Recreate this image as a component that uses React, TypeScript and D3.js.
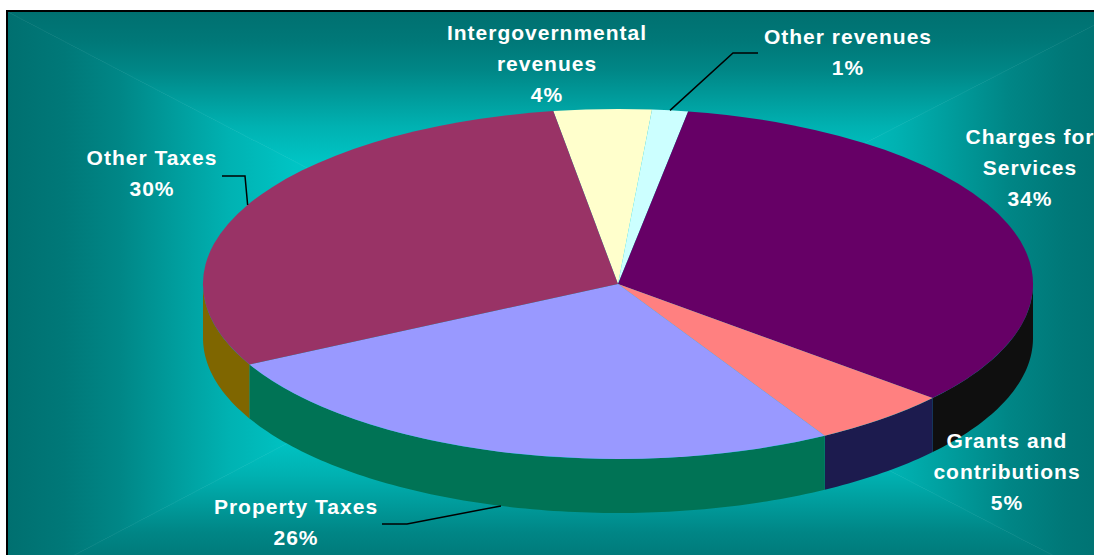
import React from "react";
import * as d3 from "d3";

// ---- data ----
const categories = [
  "Intergovernmental revenues",
  "Other revenues",
  "Charges for Services",
  "Grants and contributions",
  "Property Taxes",
  "Other Taxes",
];
const values = [3.8, 1.4, 33.6, 5.4, 25.7, 30.1];
const labelLines = [
  ["Intergovernmental", "revenues"],
  ["Other revenues"],
  ["Charges for", "Services"],
  ["Grants and", "contributions"],
  ["Property Taxes"],
  ["Other Taxes"],
];
const topColors = ["#FFFFCC", "#CCFFFF", "#660066", "#FF8080", "#9999FF", "#993366"];
const sideColors = ["#CCCC99", "#99CCCC", "#0F0F0F", "#1C1B4E", "#007355", "#7F6600"];

// ---- layout ----
const W = 1094;
const H = 555;
const CX = 618;
const CY = 284;
const RX = 415;
const RY = 175;
const DEPTH = 54;
const START = (-9 * Math.PI) / 180;
const LINE_H = 31;
const LABEL_POS = [
  { x: 547, y: 40 },
  { x: 848, y: 44 },
  { x: 1030, y: 144 },
  { x: 1007, y: 448 },
  { x: 296, y: 514 },
  { x: 152, y: 165 },
];
const LEADERS: Record<number, [number, number][]> = {
  1: [[758, 53], [733, 53]],
  4: [[382, 524], [407, 524]],
  5: [[222, 176], [245, 176]],
};

// background frame & gradient
const FX0 = 8, FY0 = 12, FX1 = 1120, FY1 = 590;
const GX = 560, GY = 300;

const px = (a: number) => CX + RX * Math.sin(a);
const py = (a: number) => CY - RY * Math.cos(a);

export default function App() {
  const data = categories.map((c, i) => ({ c, v: values[i], i }));
  const pie = d3
    .pie<any>()
    .sort(null)
    .value((d) => d.v)
    .startAngle(START)
    .endAngle(START + 2 * Math.PI);
  const arcs = pie(data);
  const arc = d3.arc<any>().innerRadius(0).outerRadius(1);
  const total = d3.sum(values);

  const line = d3.line<[number, number]>();

  const wallPath = (a0: number, a1: number) => {
    const lo = Math.max(a0, Math.PI / 2);
    const hi = Math.min(a1, (3 * Math.PI) / 2);
    if (hi <= lo) return null;
    const n = Math.max(4, Math.ceil(((hi - lo) * 180) / Math.PI));
    const ts = d3.range(n + 1).map((k) => lo + ((hi - lo) * k) / n);
    const top = ts.map((t) => [px(t), py(t)] as [number, number]);
    const bot = ts
      .slice()
      .reverse()
      .map((t) => [px(t), py(t) + DEPTH] as [number, number]);
    return line([...top, ...bot]) + "Z";
  };

  const stops = [
    [0, "#007070"],
    [0.1, "#007878"],
    [0.2, "#008686"],
    [0.3, "#009C9C"],
    [0.4, "#00B2B2"],
    [0.52, "#00C4C4"],
    [1, "#00CECE"],
  ];

  const tri = [
    { id: "gL", pts: [[FX0, FY0], [FX0, FY1], [GX, GY]], x1: FX0, y1: GY, x2: GX, y2: GY },
    { id: "gR", pts: [[FX1, FY0], [FX1, FY1], [GX, GY]], x1: FX1, y1: GY, x2: GX, y2: GY },
    { id: "gT", pts: [[FX0, FY0], [FX1, FY0], [GX, GY]], x1: GX, y1: FY0, x2: GX, y2: GY },
    { id: "gB", pts: [[FX0, FY1], [FX1, FY1], [GX, GY]], x1: GX, y1: FY1, x2: GX, y2: GY },
  ];

  const anchor = (i: number) => {
    const a = arcs[i];
    const m = (a.startAngle + a.endAngle) / 2;
    const front = Math.cos(m) < -0.3;
    return [px(m), py(m) + (front ? DEPTH : 0)] as [number, number];
  };

  return (
    <svg
      width={W}
      height={H}
      style={{ position: "absolute", left: 0, top: 0, background: "#fff" }}
      fontFamily="'Liberation Sans', Arial, sans-serif"
    >
      <defs>
        {tri.map((t) => (
          <linearGradient
            key={t.id}
            id={t.id}
            gradientUnits="userSpaceOnUse"
            x1={t.x1}
            y1={t.y1}
            x2={t.x2}
            y2={t.y2}
          >
            {stops.map(([o, c], k) => (
              <stop key={k} offset={o as number} stopColor={c as string} />
            ))}
          </linearGradient>
        ))}
        <clipPath id="frameClip">
          <rect x={FX0} y={FY0} width={FX1 - FX0} height={FY1 - FY0} />
        </clipPath>
      </defs>
      <g clipPath="url(#frameClip)">
        {tri.map((t) => (
          <polygon
            key={t.id}
            points={t.pts.map((p) => p.join(",")).join(" ")}
            fill={`url(#${t.id})`}
            stroke={`url(#${t.id})`}
            strokeWidth={0.6}
          />
        ))}
      </g>
      <rect
        x={FX0 - 1}
        y={FY0 - 1}
        width={FX1 - FX0 + 1}
        height={FY1 - FY0 + 1}
        fill="none"
        stroke="#000"
        strokeWidth={2}
      />
      {/* walls */}
      <g>
        {arcs.map((a, i) => {
          const d = wallPath(a.startAngle, a.endAngle);
          return d ? <path key={i} d={d} fill={sideColors[i]} /> : null;
        })}
      </g>
      {/* tops */}
      <g transform={`translate(${CX},${CY}) scale(${RX},${RY})`}>
        {arcs.map((a, i) => (
          <path key={i} d={arc(a) as string} fill={topColors[i]} />
        ))}
      </g>
      {/* leader lines */}
      {Object.entries(LEADERS).map(([k, pts]) => {
        const i = +k;
        const all = [...pts, anchor(i)] as [number, number][];
        return (
          <path key={k} d={line(all) as string} fill="none" stroke="#000" strokeWidth={1.5} />
        );
      })}
      {/* labels */}
      {arcs.map((a, i) => {
        const pos = LABEL_POS[i];
        const lines = [...labelLines[i], `${Math.round((values[i] / total) * 100)}%`];
        return (
          <text
            key={i}
            textAnchor="middle"
            fill="#fff"
            fontWeight="bold"
            fontSize={21}
            letterSpacing={1}
          >
            {lines.map((t, k) => (
              <tspan key={k} x={pos.x} y={pos.y + k * LINE_H}>
                {t}
              </tspan>
            ))}
          </text>
        );
      })}
    </svg>
  );
}
